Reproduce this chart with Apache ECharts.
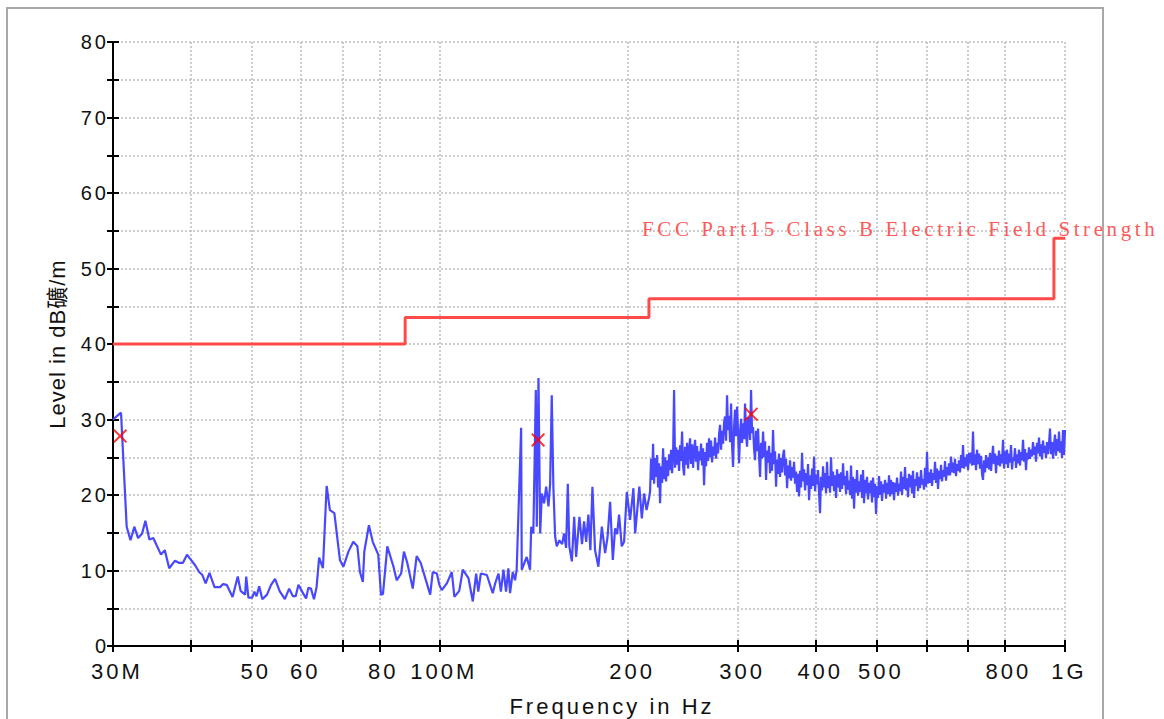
<!DOCTYPE html>
<html>
<head>
<meta charset="utf-8">
<script src="https://cdn.jsdelivr.net/npm/echarts@6/dist/echarts.min.js"></script>
<style>
html, body { margin: 0; background: #fff; }
#chart { width: 1164px; height: 719px; }
</style>
</head>
<body>
<div id="chart"></div>
<script>
// measured trace, 30 MHz .. 216 MHz (MHz, dBµV/m)
const lowFreq = [30.0, 30.9, 31.55, 32.0, 32.45, 32.9, 33.4, 33.8, 34.3, 34.8, 35.2, 35.8, 36.3, 36.9, 37.7, 38.3, 38.8, 39.4, 39.9, 40.6,
  41.2, 41.7, 42.2, 42.8, 43.6, 44.5, 45.0, 45.6, 46.6, 47.5, 48.0, 48.8, 49.0, 49.4, 50.1, 50.5, 50.9, 51.4, 52.0, 52.9,
  53.7, 54.5, 55.4, 56.5, 57.4, 58.2, 58.8, 59.4, 60.3, 61.1, 61.6, 62.2, 62.9, 63.5, 64.1, 65.0, 65.9, 66.7, 67.8, 69.2,
  70.1, 71.4, 72.7, 73.8, 74.5, 75.3, 75.7, 77.0, 78.1, 79.7, 80.5, 81.1, 82.4, 84.3, 85.3, 86.7, 87.6, 88.7, 90.5, 91.8,
  93.2, 95.0, 96.5, 97.4, 98.9, 99.8, 100.7, 102.6, 104.5, 105.5, 107.4, 108.8, 111.1, 112.9, 114.3, 115.2, 116.3, 118.9, 121.5, 122.6,
  124.1, 125.2, 126.4, 127.6, 128.7, 129.5, 130.8, 131.9, 132.7, 134.9, 135.2, 137.7, 139.4, 140.0, 141.1, 142.4, 142.9, 143.8, 144.7, 145.6,
  146.8, 147.9, 149.2, 150.1, 151.0, 151.9, 152.9, 153.8, 155.3, 156.9, 158.0, 159.2, 160.2, 161.1, 162.6, 164.0, 165.2, 167.2, 168.8, 170.1,
  171.4, 172.8, 174.1, 175.4, 177.1, 179.3, 181.6, 183.8, 185.5, 187.2, 189.1, 190.7, 192.1, 193.5, 195.4, 197.1, 199.1, 201.5, 204.0, 205.3,
  208.5, 210.4, 212.2, 214.1, 216.1];
const lowLevel = [30.0, 30.9, 15.8, 14.0, 15.8, 14.3, 14.9, 16.6, 14.1, 14.3, 13.4, 12.1, 12.7, 10.3, 11.3, 11.0, 11.0, 12.1, 11.5, 10.7,
  9.8, 9.4, 8.3, 9.7, 7.8, 7.8, 8.2, 8.1, 6.5, 9.2, 7.3, 6.8, 9.2, 6.4, 6.4, 7.2, 6.6, 7.9, 6.2, 6.8,
  8.1, 8.9, 7.3, 6.2, 7.6, 6.6, 6.6, 8.1, 7.1, 6.3, 7.7, 7.6, 6.2, 7.8, 11.7, 10.3, 21.2, 18.0, 17.6, 11.4,
  10.5, 12.5, 13.8, 13.2, 9.8, 8.5, 12.5, 16.0, 13.8, 12.1, 6.8, 6.9, 13.2, 10.5, 8.7, 9.6, 12.5, 11.0, 7.6, 11.9,
  11.0, 8.7, 6.8, 9.8, 9.6, 8.1, 7.4, 8.3, 9.8, 6.5, 7.3, 10.1, 9.0, 5.9, 9.6, 7.2, 9.6, 9.4, 7.0, 8.3,
  9.6, 7.2, 10.1, 7.2, 10.3, 7.0, 9.8, 8.7, 10.1, 28.9, 10.1, 11.8, 10.1, 15.8, 14.9, 33.9, 15.8, 35.5, 14.9, 20.2,
  18.9, 21.1, 18.5, 21.5, 33.2, 21.1, 14.5, 13.2, 14.0, 13.5, 14.9, 13.0, 21.5, 13.2, 11.2, 17.1, 11.8, 17.1, 13.5, 16.5,
  13.8, 17.4, 12.7, 21.1, 12.7, 10.5, 15.8, 12.3, 14.5, 19.1, 11.4, 15.6, 14.8, 17.4, 13.2, 13.8, 20.4, 16.7, 20.9, 14.9,
  21.1, 16.9, 20.2, 18.0, 19.6];

// fine sweep, 216.9 MHz .. 1000 MHz, equal log steps
const bandStart = 216.9;
const bandStop = 1000;
const bandLevel = [
  20.5, 24.8, 22.0, 26.8, 21.5, 24.9, 22.4, 25.3, 21.0, 24.2,
  18.9, 23.8, 21.6, 26.2, 22.1, 25.0, 21.8, 24.6, 22.5, 25.4,
  23.3, 26.0, 22.9, 25.1, 33.9, 23.6, 26.3, 24.0, 26.0, 23.2,
  26.6, 24.5, 28.4, 23.8, 22.6, 26.4, 24.0, 26.9, 23.5, 25.8,
  27.5, 24.1, 26.7, 23.6, 25.9, 27.3, 24.4, 26.5, 23.3, 25.8,
  24.6, 26.8, 23.9, 26.2, 21.3, 25.7, 23.8, 26.9, 24.5, 27.5,
  25.0, 27.2, 24.3, 26.4, 25.2, 27.6, 24.8, 26.9, 25.5, 28.0,
  29.3, 26.0, 28.5, 26.8, 29.6, 30.4, 27.2, 33.2, 28.6, 30.5,
  27.0, 32.1, 26.5, 23.7, 29.0, 31.3, 27.8, 31.7, 28.4, 24.2,
  28.2, 30.1, 26.9, 29.5, 27.4, 32.1, 28.0, 26.4, 30.3, 29.9,
  27.3, 33.9, 28.2, 29.0, 26.1, 24.6, 28.5, 25.8, 28.8, 25.2,
  22.4, 26.9, 24.8, 28.4, 25.0, 27.1, 22.0, 25.9, 24.3, 26.5,
  22.9, 25.6, 23.2, 28.6, 24.1, 25.8, 21.1, 24.7, 22.8, 25.5,
  22.4, 24.9, 23.0, 25.3, 26.0, 22.6, 24.8, 20.9, 23.9, 22.2,
  24.6, 21.9, 23.7, 22.3, 24.4, 21.5, 23.1, 20.4, 22.8, 19.8,
  23.2, 21.0, 25.6, 21.8, 23.4, 20.6, 22.9, 21.3, 24.1, 19.3,
  22.6, 20.8, 23.5, 21.2, 25.1, 20.5, 22.7, 21.4, 23.3, 20.2,
  17.6, 22.4, 20.6, 23.8, 21.0, 22.9, 20.2, 24.4, 20.9, 22.5,
  20.3, 25.0, 21.2, 23.1, 20.5, 22.6, 19.6, 23.4, 21.0, 22.8,
  20.4, 23.0, 20.8, 24.2, 21.3, 22.5, 20.1, 23.2, 20.7, 21.9,
  20.0, 23.9, 19.5, 22.4, 18.2, 22.1, 20.3, 23.3, 19.9, 21.8,
  20.4, 22.7, 19.6, 23.3, 18.9, 22.0, 20.2, 22.4, 19.4, 21.6,
  20.2, 21.9, 19.0, 22.3, 19.7, 21.5, 17.5, 21.2, 19.6, 22.5,
  20.0, 21.8, 19.2, 21.4, 20.3, 22.0, 19.5, 21.6, 20.1, 22.6,
  19.8, 22.0, 20.1, 21.7, 19.3, 21.6, 20.4, 22.3, 19.9, 21.5,
  20.5, 23.1, 20.0, 22.4, 20.8, 23.7, 20.6, 22.2, 19.7, 22.8,
  21.0, 22.6, 20.2, 23.2, 19.6, 22.1, 21.2, 23.0, 20.5, 22.4,
  20.9, 23.3, 21.4, 22.1, 20.7, 23.6, 21.1, 25.7, 21.5, 23.0,
  21.6, 23.4, 21.2, 22.9, 22.0, 24.4, 21.6, 23.5, 20.8, 23.2,
  22.1, 24.0, 21.8, 23.3, 22.4, 24.5, 21.9, 23.7, 22.6, 24.2,
  22.6, 25.1, 23.0, 24.3, 22.9, 24.8, 22.5, 24.1, 23.2, 24.6,
  23.0, 25.3, 23.6, 26.6, 23.5, 25.0, 23.8, 25.4, 23.3, 25.6,
  24.2, 25.6, 23.9, 28.4, 24.0, 25.4, 23.3, 26.0, 24.1, 25.5,
  23.5, 25.2, 22.8, 22.0, 24.6, 23.0, 25.3, 23.6, 25.0, 23.4,
  25.6, 23.2, 24.7, 26.5, 24.1, 25.5, 22.9, 25.2, 24.0, 25.9,
  23.8, 25.4, 24.2, 27.3, 23.5, 25.8, 24.1, 26.0, 23.6, 25.5,
  24.3, 26.6, 23.4, 25.0, 24.5, 26.2, 23.6, 25.4, 24.2, 26.0,
  23.9, 25.7, 24.6, 27.3, 24.4, 26.1, 23.3, 25.6, 24.7, 26.3,
  24.8, 26.0, 25.1, 27.0, 25.3, 26.4, 24.4, 26.9, 25.5, 27.6,
  25.1, 26.7, 24.7, 27.2, 25.6, 26.5, 24.9, 27.0, 25.4, 26.8,
  28.8, 25.4, 27.0, 24.8, 26.6, 28.0, 25.2, 27.4, 25.8, 28.4,
  25.6, 27.1, 24.9, 28.6, 25.3, 28.6];

// FCC Part 15 class B limit steps
const limitFreq = [30, 88, 88, 216, 216, 960, 960, 1000];
const limitLevel = [40, 40, 43.5, 43.5, 46, 46, 54, 54];

// final measurement peaks
const peakFreq = [30.8, 143.6, 314.8];
const peakLevel = [27.8, 27.3, 30.7];

const xTicks = [30, 40, 50, 60, 70, 80, 100, 200, 300, 400, 500, 600, 700, 800, 1000];
const xLabels = [30, 50, 60, 80, 100, 200, 300, 400, 500, 800, 1000];
const xLabelText = { 30: '30M', 100: '100M', 1000: '1G' };

const trace = lowFreq.map((f, i) => [f, lowLevel[i]]);
bandLevel.forEach((v, i) => {
  const f = bandStart * Math.pow(bandStop / bandStart, i / (bandLevel.length - 1));
  trace.push([f, v]);
});
const limit = limitFreq.map((f, i) => [f, limitLevel[i]]);
const peaks = peakFreq.map((f, i) => [f, peakLevel[i]]);

const FONT = "'Liberation Sans', Arial, 'Noto Sans CJK SC', sans-serif";
const gridLine = { show: true, lineStyle: { color: '#bdbdbd', width: 1.5, type: [2, 2] } };
const black = { color: '#000', width: 2 };

const chart = echarts.init(document.getElementById('chart'), null, { renderer: 'svg' });
chart.setOption({
  animation: false,
  backgroundColor: '#fff',
  grid: { left: 113, right: 99, top: 42, bottom: 73, outerBoundsMode: 'none' },
  xAxis: [
    {
      type: 'log', logBase: 10, min: 30, max: 1000, position: 'bottom',
      name: 'Frequency in Hz', nameLocation: 'middle', nameGap: 49,
      nameTextStyle: { fontFamily: FONT, fontSize: 22, color: '#111', padding: [0, 0, 0, 46] },
      axisLine: { onZero: false, lineStyle: black },
      axisTick: { customValues: xTicks, length: 6, lineStyle: black },
      axisLabel: {
        customValues: xLabels, margin: 14, fontFamily: FONT, fontSize: 22, color: '#111',
        padding: [0, 0, 0, 8],
        formatter: v => xLabelText[v] || String(v)
      },
      splitLine: gridLine,
      minorTick: { show: false }
    },
    {
      type: 'log', logBase: 10, min: 30, max: 1000, position: 'bottom',
      axisLine: { show: false },
      axisTick: { customValues: xTicks, inside: true, length: 6, lineStyle: black },
      axisLabel: { show: false },
      splitLine: { show: false }
    }
  ],
  yAxis: [
    {
      type: 'value', min: 0, max: 80, interval: 5, position: 'left',
      name: 'Level in dB礦/m', nameLocation: 'middle', nameGap: 45,
      nameTextStyle: { fontFamily: FONT, fontSize: 22, color: '#111' },
      axisLine: { show: true, onZero: false, lineStyle: black },
      axisTick: { show: true, length: 6, lineStyle: black },
      axisLabel: {
        margin: 4, fontFamily: FONT, fontSize: 20, color: '#111',
        formatter: v => (v % 10 === 0 ? String(v) : '')
      },
      splitLine: gridLine
    },
    {
      type: 'value', min: 0, max: 80, interval: 5, position: 'left',
      axisLine: { show: false },
      axisTick: { show: true, inside: true, length: 6, lineStyle: black },
      axisLabel: { show: false },
      splitLine: { show: false }
    }
  ],
  graphic: [
    {
      type: 'rect', silent: true, z: -1,
      shape: { x: 7, y: 8, width: 1096, height: 730 },
      style: { fill: 'none', stroke: '#a8a8a8', lineWidth: 2 }
    },
    {
      type: 'text', left: 642, top: 218, z: 10,
      style: {
        text: 'FCC Part15 Class B Electric Field Strength',
        fill: '#ff5a5a', font: "21px 'Liberation Serif', 'DejaVu Serif', serif"
      }
    }
  ],
  series: [
    {
      name: 'Level', type: 'line', data: trace, symbol: 'none', z: 2,
      lineStyle: { color: '#4848ff', width: 2.2 }
    },
    {
      name: 'Limit', type: 'line', data: limit, symbol: 'none', z: 3,
      lineStyle: { color: '#ff4a4a', width: 3 }
    },
    {
      name: 'Peaks', type: 'scatter', data: peaks, z: 4,
      symbol: 'path://M0,1L1,0L5,4L9,0L10,1L6,5L10,9L9,10L5,6L1,10L0,9L4,5Z',
      symbolSize: 14,
      itemStyle: { color: '#ff0000' }
    }
  ]
});

// the source plot spaces its glyphs out; SVG text takes letter-spacing
function spaceText() {
  document.querySelectorAll('#chart text').forEach(t => {
    const s = t.textContent || '';
    t.style.letterSpacing = s.indexOf('FCC') === 0 ? '3.6px' : s.indexOf('Level') === 0 ? '1px' : '3px';
  });
}
spaceText();
chart.on('finished', spaceText);
</script>
</body>
</html>
